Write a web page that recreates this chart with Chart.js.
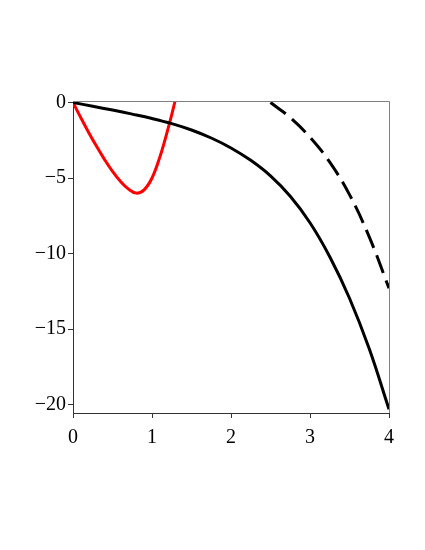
<!DOCTYPE html>
<html>
<head>
<meta charset="utf-8">
<script src="https://cdn.jsdelivr.net/npm/chart.js@4/dist/chart.umd.min.js"></script>
<style>
  html, body { margin: 0; padding: 0; background: #fff; }
  #wrap { width: 425px; height: 550px; }
</style>
</head>
<body>
<div id="wrap"><canvas id="plot" width="425" height="550"></canvas></div>
<script>
// values
const solidX = [0, 0.25, 0.5, 0.75, 1, 1.25, 1.5, 1.75, 2, 2.25, 2.5, 2.75, 3, 3.25, 3.5, 3.75, 4];
const solidY = [0, -0.25, -0.5, -0.77, -1.06, -1.4, -1.82, -2.35, -3.01, -3.83, -4.86, -6.21, -7.96, -10.21, -12.96, -16.31, -20.31];

const redX = [0, 0.1, 0.2, 0.3, 0.4, 0.5, 0.6, 0.7, 0.8, 0.9, 1.0, 1.1, 1.2, 1.25, 1.29];
const redY = [0, -1.02, -2.0, -2.92, -3.78, -4.56, -5.22, -5.72, -6.0, -5.78, -5.0, -3.6, -1.8, -0.8, 0.05];

const dashX = [2.5, 2.75, 3, 3.25, 3.5, 3.75, 4];
const dashY = [0, -1.0, -2.3, -3.95, -6.1, -8.9, -12.3];

const xTicks = [0, 1, 2, 3, 4];
const yTicks = [-20, -15, -10, -5, 0];

function pts(xs, ys) {
  return xs.map((x, i) => ({ x: x, y: ys[i] }));
}

// gray frame on top and right side
const framePlugin = {
  id: 'frame',
  afterDraw(chart) {
    const a = chart.chartArea;
    const ctx = chart.ctx;
    ctx.save();
    ctx.strokeStyle = '#808080';
    ctx.lineWidth = 1;
    ctx.beginPath();
    ctx.moveTo(a.left, a.top + 0.5);
    ctx.lineTo(a.right + 0.5, a.top + 0.5);
    ctx.lineTo(a.right + 0.5, a.bottom);
    ctx.stroke();
    ctx.restore();
  }
};

const font = { family: '"Liberation Serif", "DejaVu Serif", serif', size: 20 };

new Chart(document.getElementById('plot'), {
  type: 'line',
  data: {
    datasets: [
      {
        data: pts(solidX, solidY),
        borderColor: '#000',
        borderWidth: 3,
        pointRadius: 0,
        fill: false,
        tension: 0.4
      },
      {
        data: pts(redX, redY),
        borderColor: '#ff0000',
        borderWidth: 3,
        pointRadius: 0,
        fill: false,
        tension: 0.4
      },
      {
        data: pts(dashX, dashY),
        borderColor: '#000',
        borderWidth: 3,
        borderDash: [19, 8],
        pointRadius: 0,
        fill: false,
        tension: 0.4
      }
    ]
  },
  options: {
    responsive: false,
    animation: false,
    layout: { padding: { left: 0, top: 101, right: 36, bottom: 0 } },
    plugins: { legend: { display: false }, tooltip: { enabled: false } },
    scales: {
      x: {
        type: 'linear',
        min: 0,
        max: 4,
        afterBuildTicks(scale) { scale.ticks = xTicks.map(v => ({ value: v })); },
        afterFit(scale) { scale.height = 137; },
        grid: { drawOnChartArea: false, drawTicks: true, tickLength: 5, tickColor: '#333' },
        border: { display: true, color: '#333', width: 1 },
        ticks: { color: '#000', font: font, padding: 8, maxRotation: 0 }
      },
      y: {
        type: 'linear',
        min: -20.56,
        max: 0.1,
        afterBuildTicks(scale) { scale.ticks = yTicks.map(v => ({ value: v })); },
        afterFit(scale) { scale.width = 73; },
        grid: { drawOnChartArea: false, drawTicks: true, tickLength: 5, tickColor: '#333' },
        border: { display: true, color: '#333', width: 1 },
        ticks: {
          color: '#000',
          font: font,
          padding: 2,
          callback: v => (v < 0 ? '\u2212' + Math.abs(v) : String(v))
        }
      }
    }
  },
  plugins: [framePlugin]
});
</script>
</body>
</html>
